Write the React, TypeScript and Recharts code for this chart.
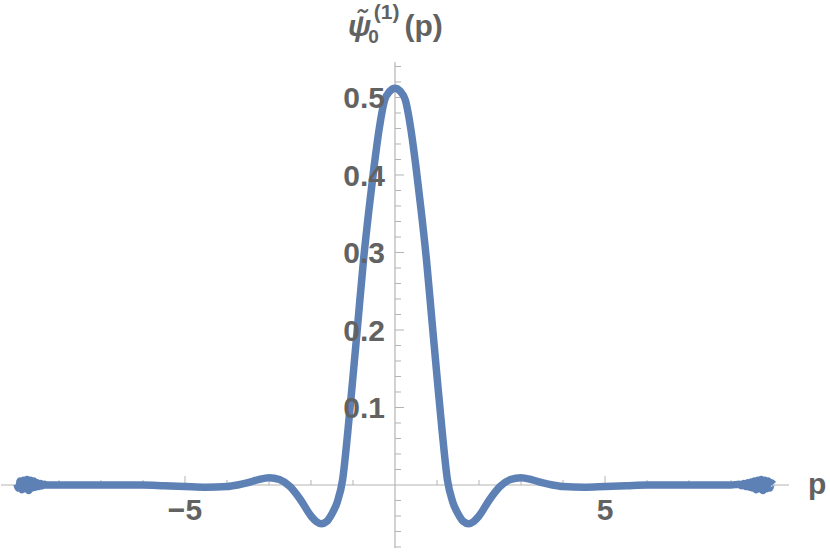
import * as React from 'react';
import { LineChart, Line, XAxis, YAxis, ReferenceLine, ReferenceDot } from 'recharts';

// p grid and the curve values (noisy tails near |p| ~ 9)
const pValues = [
  -9.0, -8.96, -8.92, -8.88, -8.84, -8.8, -8.76, -8.72, -8.68, -8.64, -8.6, -8.56, -8.52, -8.48, -8.44, -8.4, -8.35, -8.3,
  -8.0, -7.5, -7.0, -6.5, -6.0, -5.5, -5.0, -4.5, -4.0, -3.75, -3.5, -3.25, -3.0, -2.75, -2.5, -2.25, -2.0, -1.875, -1.75,
  -1.625, -1.5, -1.375, -1.25, -1.125, -1.0, -0.875, -0.75, -0.625, -0.5, -0.375, -0.25, -0.125, 0,
  0.125, 0.25, 0.375, 0.5, 0.625, 0.75, 0.875, 1.0, 1.125, 1.25, 1.375, 1.5, 1.625, 1.75, 1.875, 2.0, 2.25, 2.5, 2.75,
  3.0, 3.25, 3.5, 3.75, 4.0, 4.5, 5.0, 5.5, 6.0, 6.5, 7.0, 7.5, 8.0, 8.2, 8.25, 8.3, 8.35, 8.4, 8.44, 8.48, 8.52, 8.56,
  8.6, 8.64, 8.68, 8.72, 8.76, 8.8, 8.84, 8.88, 8.92, 8.96, 9.0,
];
const psiValues = [
  0.001, -0.004, 0.005, -0.006, 0.006, -0.005, 0.007, -0.007, 0.006, -0.004, 0.005, -0.003, 0.003, -0.002, 0.002, -0.001, 0.001, 0,
  0, 0, 0, 0, 0, -0.001, -0.002, -0.003, -0.002, 0.0, 0.003, 0.007, 0.0095, 0.007, -0.002, -0.019, -0.04, -0.047, -0.05,
  -0.047, -0.037, -0.022, 0.006, 0.068, 0.14, 0.215, 0.29, 0.353, 0.41, 0.46, 0.496, 0.508, 0.512,
  0.508, 0.496, 0.46, 0.41, 0.353, 0.29, 0.215, 0.14, 0.068, 0.006, -0.022, -0.037, -0.047, -0.05, -0.047, -0.04, -0.019,
  -0.002, 0.007, 0.0095, 0.007, 0.003, 0.0, -0.002, -0.003, -0.002, -0.001, 0, 0, 0, 0, 0, 0.001, -0.001, 0.002, -0.002,
  0.003, -0.003, 0.004, -0.004, 0.005, -0.006, 0.006, -0.005, 0.007, -0.007, 0.006, -0.005, 0.005, -0.004, 0.003, 0.001,
];

const xMajorTicks = [-5, 5];
const xMajorLabels = ['\u22125', '5'];
const xMinorTicks = [-9, -8, -7, -6, -4, -3, -2, -1, 1, 2, 3, 4, 6, 7, 8, 9];
const yMajorTicks = [0.1, 0.2, 0.3, 0.4, 0.5];
const yMajorLabels = ['0.1', '0.2', '0.3', '0.4', '0.5'];
const yMinorTicks = [
  -0.08, -0.06, -0.04, -0.02, 0.02, 0.04, 0.06, 0.08, 0.12, 0.14, 0.16, 0.18, 0.22, 0.24, 0.26, 0.28,
  0.32, 0.34, 0.36, 0.38, 0.42, 0.44, 0.46, 0.48, 0.52, 0.54,
];

const X_DOMAIN: [number, number] = [-9.38, 9.38];
const Y_DOMAIN: [number, number] = [-0.0813, 0.5458];

const AXIS = '#b4b4b4';
const TEXT = '#626262';
const FONT = 'Liberation Sans, Arial, sans-serif';

const data = pValues.map((p, i) => ({ p, psi: psiValues[i] }));

const TitleLabel = (props: any) => {
  const { x, y } = props.viewBox;
  return (
    <text x={x - 47} y={y - 26} fill={TEXT} fontFamily={FONT} fontWeight="bold" fontSize={30}>
      <tspan fontStyle="italic">{'\u03C8\u0303'}</tspan>
      <tspan fontSize={19} dx={-3} dy={7}>0</tspan>
      <tspan fontSize={21} dx={-5} dy={-24}>(1)</tspan>
      <tspan fontSize={30} dx={5} dy={17}>(p)</tspan>
    </text>
  );
};

const AxisNameLabel = (props: any) => {
  const { x, y } = props.viewBox;
  return (
    <text x={x + 19} y={y + 9} fill={TEXT} fontFamily={FONT} fontWeight="bold" fontSize={30}>
      p
    </text>
  );
};

const labelStyle = { fill: TEXT, fontSize: 30, fontWeight: 'bold', fontFamily: FONT };

export default function App() {
  return (
    <div style={{ position: 'absolute', left: 0, top: 0, background: '#fff' }}>
      <LineChart width={830} height={554} data={data} margin={{ top: 62, right: 41, bottom: 6, left: 1 }}>
        <XAxis type="number" dataKey="p" domain={X_DOMAIN} allowDataOverflow hide />
        <YAxis type="number" domain={Y_DOMAIN} allowDataOverflow hide />

        <ReferenceLine y={0} stroke={AXIS} strokeWidth={1.2} />
        <ReferenceLine x={0} stroke={AXIS} strokeWidth={1.2} />

        {xMinorTicks.map((t) => (
          <ReferenceLine key={`xm${t}`} segment={[{ x: t, y: 0 }, { x: t, y: 0.0065 }]} stroke={AXIS} />
        ))}
        {xMajorTicks.map((t) => (
          <ReferenceLine key={`xM${t}`} segment={[{ x: t, y: 0 }, { x: t, y: 0.0116 }]} stroke={AXIS} />
        ))}
        {yMinorTicks.map((t) => (
          <ReferenceLine key={`ym${t}`} segment={[{ x: 0, y: t }, { x: 0.143, y: t }]} stroke={AXIS} />
        ))}
        {yMajorTicks.map((t) => (
          <ReferenceLine key={`yM${t}`} segment={[{ x: 0, y: t }, { x: 0.214, y: t }]} stroke={AXIS} />
        ))}

        <Line
          type="monotone"
          dataKey="psi"
          stroke="#5E81B5"
          strokeWidth={7.5}
          strokeLinejoin="round"
          dot={false}
          isAnimationActive={false}
        />

        {xMajorTicks.map((t, i) => (
          <ReferenceDot
            key={`xl${t}`}
            x={t}
            y={0}
            r={0}
            stroke="none"
            fill="none"
            label={{ value: xMajorLabels[i], position: 'bottom', offset: 14, ...labelStyle }}
          />
        ))}
        {yMajorTicks.map((t, i) => (
          <ReferenceDot
            key={`yl${t}`}
            x={0}
            y={t}
            r={0}
            stroke="none"
            fill="none"
            label={{ value: yMajorLabels[i], position: 'left', offset: 10, ...labelStyle }}
          />
        ))}
        <ReferenceDot x={0} y={Y_DOMAIN[1]} r={0} stroke="none" fill="none" label={{ content: TitleLabel }} />
        <ReferenceDot x={X_DOMAIN[1]} y={0} r={0} stroke="none" fill="none" label={{ content: AxisNameLabel }} />
      </LineChart>
    </div>
  );
}
